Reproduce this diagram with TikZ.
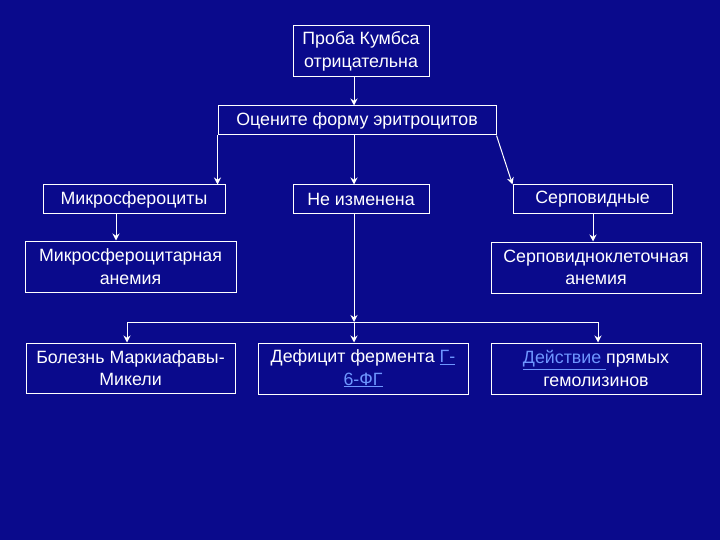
\documentclass[tikz,border=0pt]{standalone}
\usepackage{fontspec}
\setmainfont{Liberation Sans}
\usetikzlibrary{arrows.meta}
\definecolor{bg}{RGB}{10,10,140}
\definecolor{linkc}{RGB}{110,150,255}
\newcommand{\lnk}[1]{\textcolor{linkc}{\underline{#1}}}
\tikzset{
  box/.style={draw=white, line width=1pt, text=white, align=center, inner sep=0pt,
    font=\fontsize{17.8}{22.5}\selectfont},
  arr/.style={draw=white, line width=1pt, -{Stealth[length=7pt,width=7pt]}},
  ln/.style={draw=white, line width=1pt}
}
\begin{document}
\begin{tikzpicture}[x=1pt,y=-1pt]
\fill[bg] (0,0) rectangle (720,540);
\useasboundingbox (0,0) rectangle (720,540);
\node[box, minimum width=136pt, minimum height=51pt] (proba) at (361,51.5) {Проба Кумбса\\отрицательна};
\node[box, minimum width=278pt, minimum height=29pt] (ocen) at (357,120.5) {Оцените форму эритроцитов};
\node[box, minimum width=182pt, minimum height=29pt] (mikro) at (134,199.5) {Микросфероциты};
\node[box, minimum width=136pt, minimum height=29pt] (neizm) at (361,199.5) {Не изменена};
\node[box, minimum width=159pt, minimum height=29pt] (serp) at (592.5,199.5) {Серповидные};
\node[box, minimum width=211pt, minimum height=51pt] (mikroan) at (130.5,266.5) {Микросфероцитарная\\анемия};
\node[box, minimum width=210pt, minimum height=51pt] (serpan) at (596,267.5) {Серповидноклеточная\\анемия};
\node[box, minimum width=209pt, minimum height=50pt] (bolezn) at (130.5,368) {Болезнь Маркиафавы-\\Микели};
\node[box, minimum width=210pt, minimum height=51pt] (defic) at (363,368.5) {Дефицит фермента \lnk{Г-}\\\lnk{6-ФГ}};
\node[box, minimum width=210pt, minimum height=51pt] (deyst) at (596,368.5) {\lnk{Действие }прямых\\гемолизинов};
\coordinate (cx) at (354,0);
\coordinate (hl) at (354,322);
\coordinate (hlL) at (127,322);
\coordinate (hlR) at (598,322);
\draw[arr] (proba.south -| cx) -- (ocen.north -| cx);
\draw[arr] (ocen.south west) -- (mikro.north -| ocen.south west);
\draw[arr] (ocen.south -| cx) -- (neizm.north -| cx);
\draw[arr] (ocen.south east) -- (serp.north west);
\draw[arr] (mikro.south -| 116,0) -- (mikroan.north -| 116,0);
\draw[arr] (serp.south -| 593,0) -- (serpan.north -| 593,0);
\draw[arr] (neizm.south -| cx) -- (hl);
\draw[ln] (hlL) -- (hlR);
\draw[arr] (hlL) -- (bolezn.north -| hlL);
\draw[arr] (hl) -- (defic.north -| hl);
\draw[arr] (hlR) -- (deyst.north -| hlR);
\end{tikzpicture}
\end{document}
